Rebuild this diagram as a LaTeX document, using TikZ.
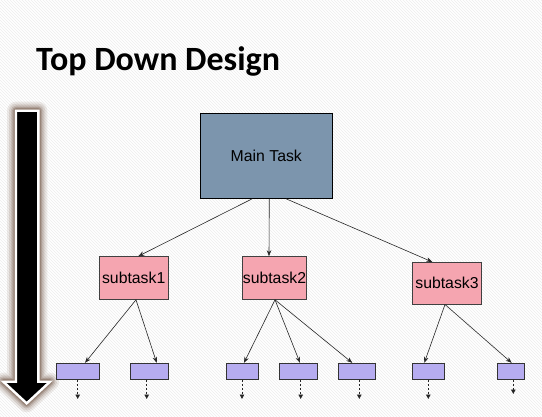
\documentclass[tikz,border=0pt]{standalone}
\usepackage{fontspec}
\setmainfont{Liberation Sans}
\newfontfamily\titlefont{Carlito}
\usetikzlibrary{arrows.meta,patterns,calc}
\definecolor{mainfill}{HTML}{7C95AD}
\definecolor{subfill}{HTML}{F5A5B0}
\definecolor{leaffill}{HTML}{B6ACF0}
\definecolor{glow}{HTML}{7E6656}
\tikzset{
  mainbox/.style={draw=black, line width=0.9pt, fill=mainfill, inner sep=0pt, font=\fontsize{15.8}{18}\selectfont},
  subbox/.style={draw=black!75, line width=0.9pt, fill=subfill, inner sep=0pt, font=\fontsize{15.8}{18}\selectfont},
  leafbox/.style={draw=black!80, line width=0.9pt, fill=leaffill, inner sep=0pt, minimum height=16pt},
  link/.style={-{Stealth[length=6pt,width=4.5pt]}, line width=0.6pt, black!85},
  down/.style={-{Triangle[length=4.5pt,width=4.5pt]}, dashed, dash pattern=on 2.5pt off 1.5pt, line width=0.8pt, black!85},
}
\begin{document}
\begin{tikzpicture}[x=1pt,y=-1pt]
\useasboundingbox (0,0) rectangle (542,416);
\fill[white] (0,0) rectangle (542,416);
\fill[pattern=north west lines, pattern color=black!7] (0,0) rectangle (542,416);
% title
\node[anchor=base west, inner sep=0pt, font=\titlefont\bfseries\fontsize{34}{36}\selectfont] (title) at (36,70.7) {Top Down Design};
% big arrow with glow
\foreach \w/\o in {18/0.12,14/0.16,10.5/0.22,7.5/0.32,5/0.45}{
  \draw[glow, line width=\w pt, opacity=\o, line join=round]
    (16,110.7) -- (38.3,110.7) -- (38.3,381.7) -- (50,381.7) -- (26.7,403.3) -- (3.3,381.7) -- (16,381.7) -- cycle;
}
\draw[white, line width=2.4pt, fill=black, line join=miter]
  (16,110.7) -- (38.3,110.7) -- (38.3,381.7) -- (50,381.7) -- (26.7,403.3) -- (3.3,381.7) -- (16,381.7) -- cycle;
% nodes
\node[mainbox, minimum width=132.7pt, minimum height=85pt] (main) at (266.3,155.8) {Main Task};
\node[subbox, minimum width=69.3pt, minimum height=42.7pt] (s1) at (133.7,278) {subtask1};
\node[subbox, minimum width=64.3pt, minimum height=42.7pt] (s2) at (274.5,278) {subtask2};
\node[subbox, minimum width=69.3pt, minimum height=41.7pt] (s3) at (447,283.2) {subtask3};
\node[leafbox, minimum width=43pt] (b1) at (77.5,371.3) {};
\node[leafbox, minimum width=38pt] (b2) at (149.3,371.3) {};
\node[leafbox, minimum width=32.7pt] (b3) at (242.3,371.3) {};
\node[leafbox, minimum width=38.3pt] (b4) at (298.2,371.3) {};
\node[leafbox, minimum width=37.7pt] (b5) at (356.8,371.3) {};
\node[leafbox, minimum width=32.3pt] (b6) at (428.5,371.3) {};
\node[leafbox, minimum width=27pt] (b7) at (510.8,371.3) {};
\coordinate (d1) at (77.7,399);
\coordinate (d2) at (146.7,399);
\coordinate (d3) at (242,399);
\coordinate (d4) at (300.7,399);
\coordinate (d5) at (359.3,399);
\coordinate (d6) at (428.3,399);
\coordinate (d7) at (513.3,394);
% connectors
\draw[link] ([xshift=-14pt]main.south) -- ([xshift=4.6pt]s1.north);
\draw[link] ([xshift=3pt]main.south) -- ([xshift=-5.5pt]s2.north);
\draw[link] ([xshift=19.7pt]main.south) -- ([xshift=-14.7pt]s3.north);
\draw[link] ([xshift=2.3pt]s1.south) -- ([xshift=7.5pt]b1.north);
\draw[link] ([xshift=2.3pt]s1.south) -- ([xshift=7.4pt]b2.north);
\draw[link] ([xshift=0.5pt]s2.south) -- ([xshift=1.7pt]b3.north);
\draw[link] ([xshift=0.5pt]s2.south) -- ([xshift=1.8pt]b4.north);
\draw[link] ([xshift=0.5pt]s2.south) -- ([xshift=-4.5pt]b5.north);
\draw[link] ([xshift=-2pt]s3.south) -- ([xshift=-4.2pt]b6.north);
\draw[link] ([xshift=-2pt]s3.south) -- ([xshift=0.9pt]b7.north);
\draw[down] (b1.south -| d1) -- (d1);
\draw[down] (b2.south -| d2) -- (d2);
\draw[down] (b3.south -| d3) -- (d3);
\draw[down] (b4.south -| d4) -- (d4);
\draw[down] (b5.south -| d5) -- (d5);
\draw[down] (b6.south -| d6) -- (d6);
\draw[down] (b7.south -| d7) -- (d7);
\end{tikzpicture}
\end{document}
